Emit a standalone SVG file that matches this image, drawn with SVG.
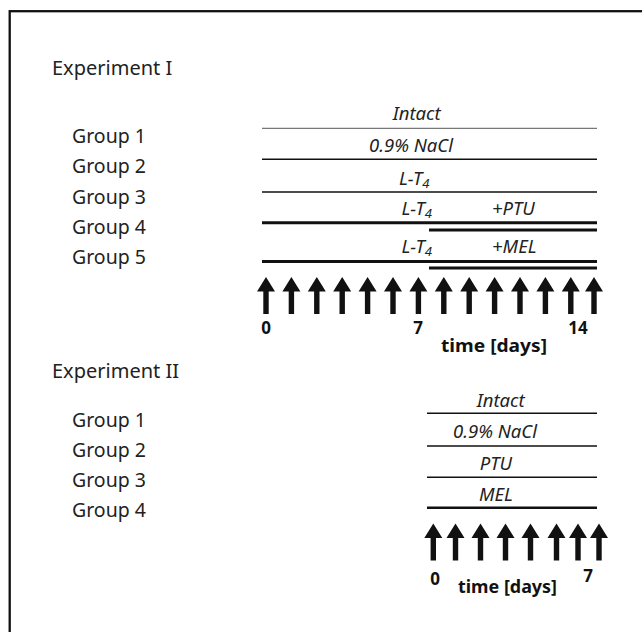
<svg xmlns="http://www.w3.org/2000/svg" xmlns:xlink="http://www.w3.org/1999/xlink" width="642" height="632" viewBox="0 0 642 632">
<style>
.lbl{font-family:"Noto Sans","Open Sans",sans-serif;font-size:19.5px;fill:#222}
.head{font-family:"Noto Sans","Open Sans",sans-serif;font-size:20px;fill:#222}
.it{font-family:"Noto Sans","Open Sans",sans-serif;font-size:18.5px;font-style:italic;fill:#222}
.num{font-family:"Noto Sans","Open Sans",sans-serif;font-size:17px;font-weight:bold;fill:#111}
.time{font-family:"Noto Sans","Open Sans",sans-serif;font-size:17.5px;font-weight:bold;fill:#111}
.thin{stroke:#777;stroke-width:1.3}
.mid{stroke:#111;stroke-width:1.6}
.thick{stroke:#111;stroke-width:3}
.thickb{stroke:#111;stroke-width:2.5}
</style>
<defs>
<path id="arr" d="M0,0 L9,14.5 L2.7,14.5 L2.7,37 L-2.7,37 L-2.7,14.5 L-9,14.5 Z" fill="#111"/>
</defs>
<rect width="642" height="632" fill="#fff"/>
<rect x="9.7" y="11.2" width="700" height="700" fill="none" stroke="#111" stroke-width="2.3"/>

<g id="exp1">
<text class="head" x="52" y="74.5">Experiment I</text>
<text class="lbl" x="72" y="143">Group 1</text>
<text class="lbl" x="72" y="173">Group 2</text>
<text class="lbl" x="72" y="204">Group 3</text>
<text class="lbl" x="72" y="234">Group 4</text>
<text class="lbl" x="72" y="264">Group 5</text>
<text class="it" x="416.7" y="120" text-anchor="middle">Intact</text>
<text class="it" x="411" y="151.5" text-anchor="middle">0.9% NaCl</text>
<text class="it" x="399" y="185">L-T<tspan font-size="13" dy="3">4</tspan></text>
<text class="it" x="401.5" y="215">L-T<tspan font-size="13" dy="3">4</tspan></text>
<text class="it" x="492" y="215">+PTU</text>
<text class="it" x="401.5" y="253">L-T<tspan font-size="13" dy="3">4</tspan></text>
<text class="it" x="492" y="253">+MEL</text>
</g>

<g id="exp1-lines">
<line class="thin" x1="262" y1="128.3" x2="597" y2="128.3"/>
<line class="mid" x1="262" y1="159.3" x2="597" y2="159.3"/>
<line class="mid" x1="262" y1="192" x2="597" y2="192"/>
<line class="thick" x1="262" y1="222.7" x2="597" y2="222.7"/>
<line class="thick" x1="429" y1="230" x2="597" y2="230"/>
<line class="thick" x1="262" y1="261.5" x2="597" y2="261.5"/>
<line class="thick" x1="429" y1="268" x2="597" y2="268"/>
</g>

<g id="exp1-arrows">
<use xlink:href="#arr" x="266" y="277"/>
<use xlink:href="#arr" x="291.4" y="277"/>
<use xlink:href="#arr" x="316.8" y="277"/>
<use xlink:href="#arr" x="342.2" y="277"/>
<use xlink:href="#arr" x="367.6" y="277"/>
<use xlink:href="#arr" x="393" y="277"/>
<use xlink:href="#arr" x="418.4" y="277"/>
<use xlink:href="#arr" x="443.8" y="277"/>
<use xlink:href="#arr" x="469.2" y="277"/>
<use xlink:href="#arr" x="494.6" y="277"/>
<use xlink:href="#arr" x="520" y="277"/>
<use xlink:href="#arr" x="545.4" y="277"/>
<use xlink:href="#arr" x="570.8" y="277"/>
<use xlink:href="#arr" x="594" y="277"/>
</g>

<g id="exp1-axis">
<text class="num" x="266" y="334" text-anchor="middle">0</text>
<text class="num" x="418" y="334" text-anchor="middle">7</text>
<text class="num" x="578" y="334" text-anchor="middle">14</text>
<text class="time" x="441" y="352" textLength="106" lengthAdjust="spacingAndGlyphs">time [days]</text>
</g>

<g id="exp2">
<text class="head" x="52" y="378">Experiment II</text>
<text class="lbl" x="72" y="427">Group 1</text>
<text class="lbl" x="72" y="457">Group 2</text>
<text class="lbl" x="72" y="487">Group 3</text>
<text class="lbl" x="72" y="517">Group 4</text>
<text class="it" x="500.7" y="406.5" text-anchor="middle">Intact</text>
<text class="it" x="495" y="438" text-anchor="middle">0.9% NaCl</text>
<text class="it" x="496" y="470" text-anchor="middle">PTU</text>
<text class="it" x="496" y="500.5" text-anchor="middle">MEL</text>
</g>

<g id="exp2-lines">
<line class="mid" x1="427" y1="413.3" x2="597" y2="413.3"/>
<line class="mid" x1="427" y1="446" x2="597" y2="446"/>
<line class="mid" x1="427" y1="477.3" x2="597" y2="477.3"/>
<line class="thickb" x1="427" y1="507.7" x2="597" y2="507.7"/>
</g>

<g id="exp2-arrows">
<use xlink:href="#arr" x="433.3" y="523.5"/>
<use xlink:href="#arr" x="455.5" y="523.5"/>
<use xlink:href="#arr" x="480.5" y="523.5"/>
<use xlink:href="#arr" x="505.5" y="523.5"/>
<use xlink:href="#arr" x="530.5" y="523.5"/>
<use xlink:href="#arr" x="556.5" y="523.5"/>
<use xlink:href="#arr" x="578" y="523.5"/>
<use xlink:href="#arr" x="599" y="523.5"/>
</g>

<g id="exp2-axis">
<text class="num" x="435" y="585" text-anchor="middle">0</text>
<text class="num" x="588" y="582" text-anchor="middle">7</text>
<text class="time" x="458" y="593" textLength="99" lengthAdjust="spacingAndGlyphs">time [days]</text>
</g>
</svg>
